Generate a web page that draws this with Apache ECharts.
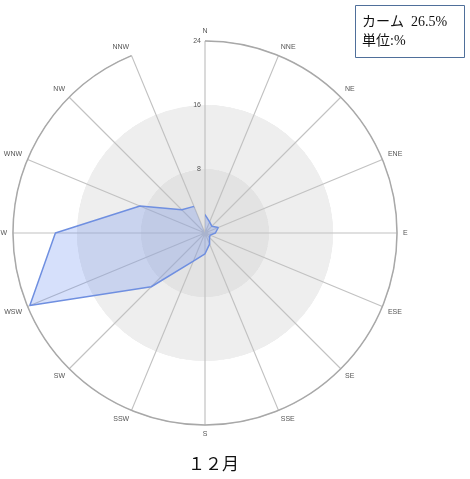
<!DOCTYPE html>
<html>
<head>
<meta charset="utf-8">
<script src="https://cdn.jsdelivr.net/npm/echarts@6/dist/echarts.min.js"></script>
<style>
html,body{margin:0;padding:0;background:#fff;}
#chart{width:470px;height:479px;}
</style>
</head>
<body>
<div id="chart"></div>
<script>
// Wind directions (clockwise from North)
const directions = ['N','NNE','NE','ENE','E','ESE','SE','SSE','S','SSW','SW','WSW','W','WNW','NW','NNW'];
// Frequency (%) per direction, December
const frequencies = [2.3, 1.5, 1.2, 1.8, 1.3, 0.7, 0.8, 1.5, 2.6, 3.8, 9.5, 23.7, 18.7, 8.8, 4.1, 3.6];
// Radial tick labels
const radiusTickLabels = ['8', '16', '24'];
const radiusMax = 24;
const radiusInterval = 8;
const calmText = 'カーム  26.5%';
const unitText = '単位:%';
const titleText = '１２月';

const seriesData = directions.map((d, i) => [frequencies[i], d]);
seriesData.push([frequencies[0], directions[0]]);

const chart = echarts.init(document.getElementById('chart'), null, {renderer: 'canvas'});
chart.setOption({
  animation: false,
  backgroundColor: '#ffffff',
  polar: {center: [205, 233], radius: 192},
  angleAxis: {
    type: 'category',
    data: directions,
    boundaryGap: false,
    startAngle: 90,
    clockwise: true,
    axisLine: {lineStyle: {color: '#a8a8a8', width: 1.5}},
    axisTick: {show: false},
    axisLabel: {fontSize: 7, color: '#555', margin: 6, fontFamily: 'Liberation Sans'},
    splitLine: {show: true, lineStyle: {color: '#c2c2c2', width: 1.2}}
  },
  radiusAxis: {
    min: 0,
    max: radiusMax,
    interval: radiusInterval,
    axisLine: {show: false},
    axisTick: {show: false},
    axisLabel: {
      fontSize: 7, color: '#555', fontFamily: 'Liberation Sans', margin: 4,
      formatter: function (v) { const i = Math.round(v / radiusInterval) - 1; return i >= 0 ? radiusTickLabels[i] : ''; }
    },
    splitLine: {show: true, lineStyle: {color: '#d2d2d2', width: 1}},
    splitArea: {show: true, areaStyle: {color: ['#e3e3e3', '#eeeeee', '#ffffff']}}
  },
  series: [{
    type: 'line',
    coordinateSystem: 'polar',
    data: seriesData,
    symbol: 'none',
    smooth: false,
    lineStyle: {color: '#6f8fe0', width: 1.5},
    areaStyle: {color: 'rgba(100,140,240,0.38)'},
    z: 3
  }],
  graphic: [
    {type: 'rect', shape: {x: 355.5, y: 5.5, width: 109, height: 52}, style: {fill: '#fff', stroke: '#4f6f9a', lineWidth: 1}},
    {type: 'text', left: 362, top: 15, style: {text: calmText, font: '14px "Liberation Serif", "Noto Sans CJK JP"', fill: '#111'}},
    {type: 'text', left: 362, top: 34, style: {text: unitText, font: '14px "Liberation Serif", "Noto Sans CJK JP"', fill: '#111'}},
    {type: 'text', left: 188, top: 457, style: {text: titleText, font: '17px "Liberation Serif", "Noto Sans CJK JP"', fill: '#111'}}
  ]
});
</script>
</body>
</html>
